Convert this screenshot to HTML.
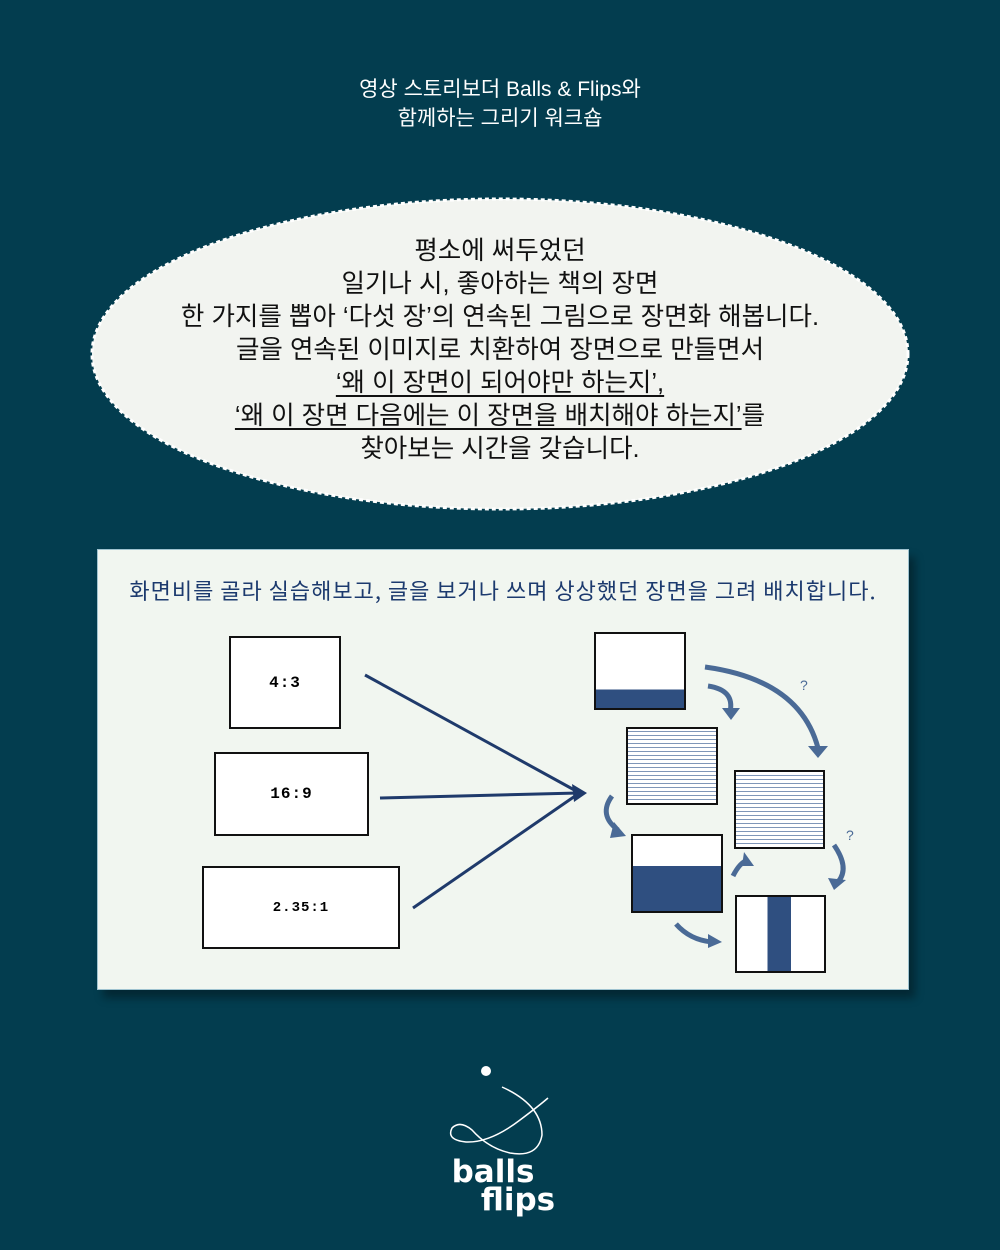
<!DOCTYPE html>
<html><head><meta charset="utf-8"><style>
body{margin:0;width:1000px;height:1250px;background:#033d4f;font-family:"Liberation Sans","Noto Sans CJK KR",sans-serif;position:relative;overflow:hidden}
.t{position:absolute;left:0;width:1000px;text-align:center;color:#fff}
.e{position:absolute;left:0;width:1000px;text-align:center;color:#111;font-size:25.5px;line-height:33px;top:235px}
.e u{text-decoration-thickness:1.5px;text-underline-offset:4px}
.panel{position:absolute;left:97px;top:549px;width:810px;height:439px;background:#f1f6f0;border:1px solid #9fc3d0;box-shadow:6px 8px 8px rgba(0,0,0,.35)}
.ttl{position:absolute;left:0;width:100%;top:24px;text-align:center;color:#1c3a6e;font-size:22px;letter-spacing:1px;font-family:"Noto Sans CJK KR",sans-serif;font-weight:400}
.b{position:absolute;background:#fff;border:2px solid #111;display:flex;align-items:center;justify-content:center;font:bold 16px "Liberation Mono",monospace;letter-spacing:1px}
.f{position:absolute;border:2px solid #111;background:repeating-linear-gradient(0deg,#fff 0 3px,#7f96b8 3px 4px)}
</style></head><body>
<div class="t" style="top:75px;font-size:21px;line-height:29px">영상 스토리보더 Balls &amp; Flips와<br>함께하는 그리기 워크숍</div>
<svg style="position:absolute;left:0;top:0" width="1000" height="560">
<ellipse cx="500" cy="354" rx="408" ry="155" fill="#f2f4f0" stroke="#fff" stroke-width="3" stroke-dasharray="4 3"/>
</svg>
<div class="e">평소에 써두었던<br>일기나 시, 좋아하는 책의 장면<br>한 가지를 뽑아 ‘다섯 장’의 연속된 그림으로 장면화 해봅니다.<br>글을 연속된 이미지로 치환하여 장면으로 만들면서<br><u>‘왜 이 장면이 되어야만 하는지’,</u><br><u>‘왜 이 장면 다음에는 이 장면을 배치해야 하는지’</u>를<br>찾아보는 시간을 갖습니다.</div>
<div class="panel"><div class="ttl">화면비를 골라 실습해보고, 글을 보거나 쓰며 상상했던 장면을 그려 배치합니다.</div></div>
<div class="b" style="left:229px;top:636px;width:108px;height:89px">4:3</div>
<div class="b" style="left:214px;top:752px;width:151px;height:80px">16:9</div>
<div class="b" style="left:202px;top:866px;width:194px;height:79px;font-size:14px">2.35:1</div>
<svg style="position:absolute;left:0;top:0" width="1000" height="1000">
<g stroke="#1f3a6b" stroke-width="3" fill="none">
<line x1="365" y1="675" x2="578" y2="792"/><line x1="380" y1="798" x2="578" y2="793"/><line x1="413" y1="908" x2="578" y2="794"/>
</g>
<polygon points="587,793 572,784 574,802" fill="#1f3a6b"/>
<g stroke="#4a6a96" stroke-width="5" fill="none">
<path d="M708 686 Q735 690 730 712"/><path d="M705 667 Q800 680 818 748"/>
<path d="M612 796 Q598 815 618 830"/><path d="M733 876 Q740 862 748 860"/>
<path d="M834 845 Q850 868 838 882"/><path d="M676 924 Q690 940 712 942"/>
</g>
<g fill="#4a6a96">
<polygon points="722,708 740,708 731,720"/><polygon points="808,746 828,746 818,758"/>
<polygon points="614,822 626,836 610,838"/><polygon points="744,852 754,866 742,866"/>
<polygon points="828,878 846,880 834,890"/><polygon points="708,934 722,942 708,948"/>
</g>
<text x="800" y="690" fill="#4a6a96" font-size="14">?</text><text x="846" y="840" fill="#4a6a96" font-size="14">?</text>
</svg>
<div class="f" style="left:594px;top:632px;width:88px;height:74px;background:linear-gradient(#fff 0 75%,#2f4f80 75%)"></div>
<div class="f" style="left:626px;top:727px;width:88px;height:74px"></div>
<div class="f" style="left:734px;top:770px;width:87px;height:75px"></div>
<div class="f" style="left:631px;top:834px;width:88px;height:75px;background:linear-gradient(#fff 0 40%,#2f4f80 40%)"></div>
<div class="f" style="left:735px;top:895px;width:87px;height:74px;background:linear-gradient(90deg,#fff 0 35%,#2f4f80 35% 62%,#fff 62%)"></div>
<svg style="position:absolute;left:430px;top:1060px" width="150" height="100">
<circle cx="56" cy="11" r="5" fill="#fff"/>
<path d="M72 27 Q112 45 112 75 Q108 98 80 93 Q58 88 42 70 Q30 60 22 68 Q16 80 36 82 Q60 83 90 60 Q110 45 118 38" stroke="#fff" stroke-width="1.5" fill="none"/>
</svg>
<div class="t" style="top:1158px;font:900 31px 'DejaVu Sans',sans-serif;line-height:28px;letter-spacing:0">
<div style="margin-left:-14px">balls</div><div style="margin-left:36px">flips</div></div>
</body></html>
